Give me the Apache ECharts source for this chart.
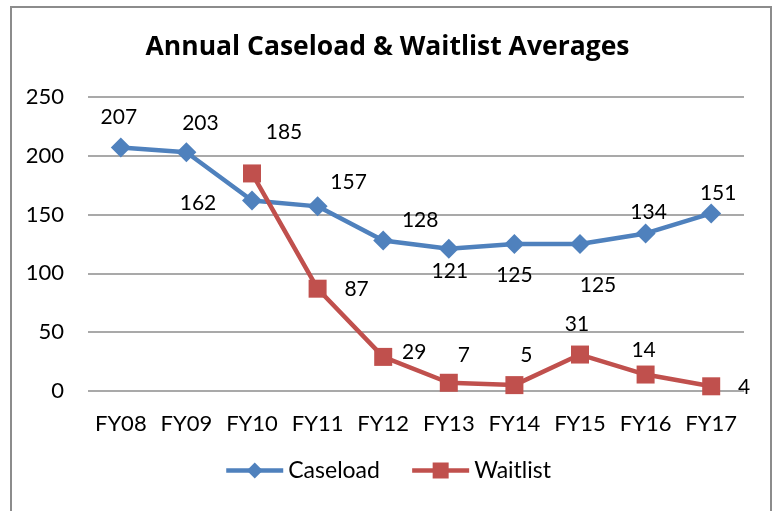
<!DOCTYPE html>
<html>
<head>
<meta charset="utf-8">
<script src="https://cdn.jsdelivr.net/npm/echarts@6/dist/echarts.min.js"></script>
<style>
  html, body { margin: 0; padding: 0; background: #fff; }
  #chart { width: 775px; height: 511px; }
</style>
</head>
<body>
<div id="chart"></div>
<script>
// data
var years = ['FY08', 'FY09', 'FY10', 'FY11', 'FY12', 'FY13', 'FY14', 'FY15', 'FY16', 'FY17']
var caseload = [207, 203, 162, 157, 128, 121, 125, 125, 134, 151]
var waitlist = [null, null, 185, 87, 29, 7, 5, 31, 14, 4]
var yTicks = [0, 50, 100, 150, 200, 250]

// where each value label sits, relative to its point
var caseloadLabelOffset = [[-2, -30], [14, -29], [-54, 3], [31, -24], [37, -20], [1, 23], [0, 31], [18, 41], [3, -21], [7, -20]]
var waitlistLabelOffset = [null, null, [32, -41], [39, 1], [31, -5], [15, -28], [12, -30], [-3, -30], [-2, -24], [33, 1]]

var fontFam = 'Lato, "Open Sans", sans-serif'

function buildData (values, offsets) {
  return values.map(function (v, i) {
    if (v === null) return null
    return {
      value: v,
      label: { show: true, position: 'inside', offset: offsets[i] }
    }
  })
}

var chart = echarts.init(document.getElementById('chart'))
var option = {
  animation: false,
  backgroundColor: '#fff',
  textStyle: { fontFamily: fontFam },
  title: {
    text: 'Annual Caseload & Waitlist Averages',
    left: 'center',
    top: 29,
    textStyle: { fontFamily: '"Open Sans", Lato, sans-serif', fontSize: 26.5, fontWeight: 'bold', color: '#000' }
  },
  graphic: [{
    type: 'rect',
    shape: { x: 11, y: 7, width: 760, height: 520 },
    style: { fill: null, stroke: '#8c8c8c', lineWidth: 2 },
    silent: true
  }],
  legend: {
    bottom: 24,
    left: 'center',
    itemWidth: 57,
    itemHeight: 20,
    itemGap: 30,
    lineStyle: { width: 4.5 },
    textStyle: { fontFamily: fontFam, fontSize: 23, color: '#000' },
    data: ['Caseload', 'Waitlist']
  },
  grid: { left: 88, right: 31, top: 97, bottom: 120 },
  xAxis: {
    type: 'category',
    data: years,
    boundaryGap: true,
    axisLine: { show: false },
    axisTick: { show: false },
    axisLabel: { interval: 0, color: '#000', fontSize: 22, fontFamily: fontFam, margin: 22 }
  },
  yAxis: {
    type: 'value',
    min: yTicks[0],
    max: yTicks[yTicks.length - 1],
    interval: 50,
    axisLine: { show: false },
    axisTick: { show: false },
    axisLabel: { color: '#000', fontSize: 22, fontFamily: fontFam, margin: 24 },
    splitLine: { lineStyle: { color: '#8c8c8c', width: 1.5 } }
  },
  series: [
    {
      name: 'Caseload',
      type: 'line',
      data: buildData(caseload, caseloadLabelOffset),
      symbol: 'diamond',
      symbolSize: 20,
      color: '#4f81bd',
      lineStyle: { width: 4.5, color: '#4f81bd' },
      itemStyle: { color: '#4f81bd' },
      label: { color: '#000', fontSize: 21, fontFamily: fontFam }
    },
    {
      name: 'Waitlist',
      type: 'line',
      data: buildData(waitlist, waitlistLabelOffset),
      symbol: 'rect',
      symbolSize: 18,
      color: '#c0504d',
      lineStyle: { width: 4.5, color: '#c0504d' },
      itemStyle: { color: '#c0504d' },
      label: { color: '#000', fontSize: 21, fontFamily: fontFam }
    }
  ]
}
chart.setOption(option)
</script>
</body>
</html>
